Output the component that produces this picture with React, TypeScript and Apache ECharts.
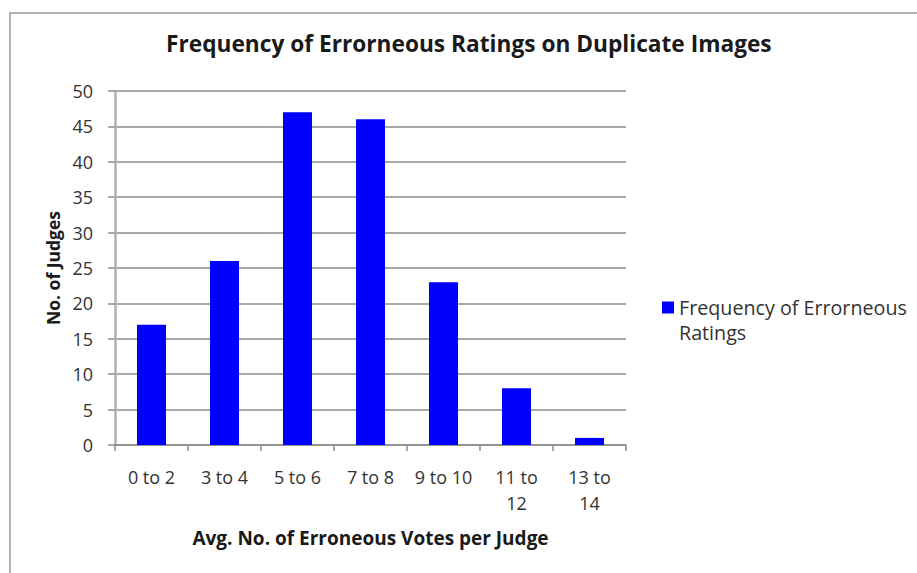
import React, { useEffect, useRef } from "react";
import * as echarts from "echarts";

const titleText = "Frequency of Errorneous Ratings on Duplicate Images";
const xAxisTitle = "Avg. No. of Erroneous Votes per Judge";
const yAxisTitle = "No. of Judges";
const seriesName = "Frequency of Errorneous Ratings";
const categories = ["0 to 2", "3 to 4", "5 to 6", "7 to 8", "9 to 10", "11 to 12", "13 to 14"];
const values = [17, 26, 47, 46, 23, 8, 1];
const yMin = 0;
const yMax = 50;
const yStep = 5;

const FONT = "'Open Sans', 'Noto Sans', sans-serif";

export default function App() {
  const ref = useRef<HTMLDivElement>(null);
  useEffect(() => {
    if (!ref.current) return;
    const chart = echarts.init(ref.current, null, { renderer: "svg" });
    chart.setOption({
      animation: false,
      backgroundColor: "#ffffff",
      textStyle: { fontFamily: FONT },
      graphic: [
        {
          type: "rect",
          shape: { x: 10, y: 13, width: 1000, height: 700 },
          style: { fill: "none", stroke: "#b4b4b4", lineWidth: 2 },
          silent: true,
        },
      ],
      title: {
        text: titleText,
        left: 166,
        top: 32,
        padding: 0,
        textStyle: { fontFamily: FONT, fontSize: 22.7, fontWeight: "bold", color: "#1a1a1a" },
      },
      legend: {
        left: 662,
        top: 270,
        padding: 0,
        icon: "rect",
        itemWidth: 12,
        itemHeight: 12,
        formatter: () => " \nFrequency of Errorneous\nRatings",
        textStyle: {
          fontFamily: FONT,
          fontSize: 19.7,
          lineHeight: 25,
          color: "#333333",
        },
        data: [seriesName],
      },
      grid: { left: 115, right: 291, top: 91, bottom: 128, containLabel: false },
      xAxis: {
        type: "category",
        data: categories,
        name: xAxisTitle,
        nameLocation: "middle",
        nameGap: 83,
        nameTextStyle: { fontFamily: FONT, fontSize: 19, fontWeight: "bold", color: "#1a1a1a" },
        axisLine: { show: true, lineStyle: { color: "#8c8c8c", width: 1.5 } },
        axisTick: { show: true, alignWithLabel: false, length: 6, lineStyle: { color: "#8c8c8c", width: 1.5 } },
        axisLabel: {
          interval: 0,
          margin: 19,
          fontFamily: FONT,
          fontSize: 18,
          lineHeight: 26,
          color: "#333333",
          formatter: (v: string) => (v.length > 7 ? v.replace(" to ", " to\n") : v),
        },
      },
      yAxis: {
        type: "value",
        min: yMin,
        max: yMax,
        interval: yStep,
        name: yAxisTitle,
        nameLocation: "middle",
        nameGap: 49,
        nameRotate: 90,
        nameTextStyle: { fontFamily: FONT, fontSize: 17.5, fontWeight: "bold", color: "#1a1a1a" },
        axisLine: { show: true, lineStyle: { color: "#b0b0b0", width: 2.5 } },
        axisTick: { show: true, length: 7, lineStyle: { color: "#8c8c8c", width: 1.5 } },
        axisLabel: { margin: 22, fontFamily: FONT, fontSize: 18, color: "#333333" },
        splitLine: { show: true, lineStyle: { color: "#8c8c8c", width: 1.5 } },
      },
      series: [
        {
          name: seriesName,
          type: "bar",
          data: values,
          barWidth: 29,
          itemStyle: { color: "#0000ff" },
        },
      ],
    });
    return () => chart.dispose();
  }, []);
  return (
    <div
      ref={ref}
      style={{ position: "fixed", left: 0, top: 0, width: 917, height: 573 }}
    />
  );
}
